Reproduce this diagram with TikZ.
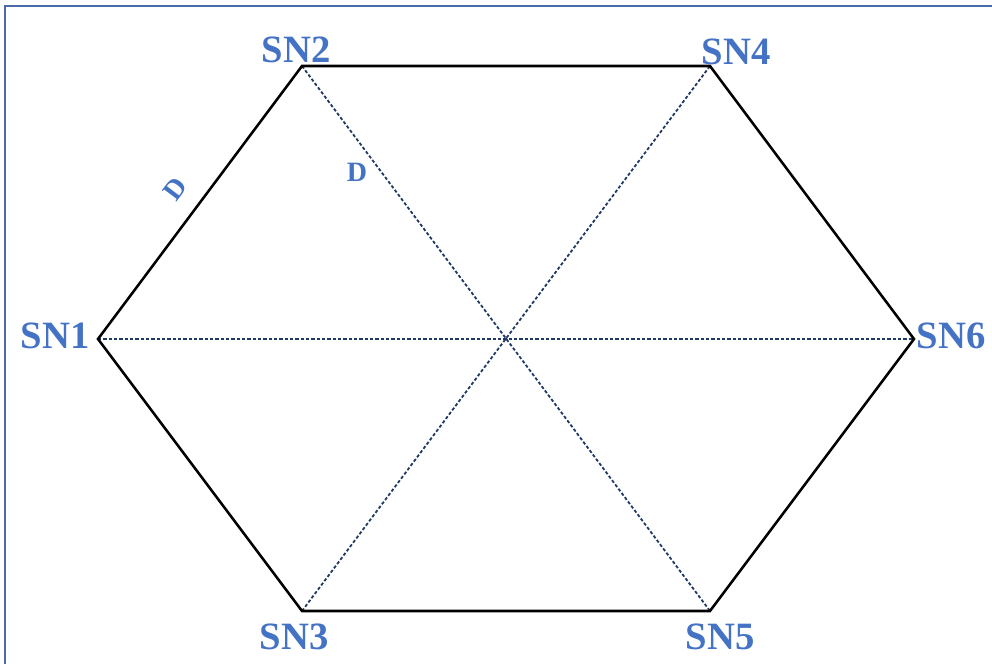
\documentclass[tikz,border=0pt]{standalone}
\usepackage{fontspec}
\setmainfont{Liberation Serif}
\definecolor{lblue}{HTML}{4472C4}
\definecolor{navy}{HTML}{1F3864}
\definecolor{frame}{HTML}{4A6AA8}
\begin{document}
\begin{tikzpicture}[x=0.75pt,y=-0.75pt,
  edge/.style={black,line width=1.9pt,line join=miter},
  diag/.style={navy,line width=1.35pt,dash pattern=on 2.4pt off 1.6pt},
  snlabel/.style={text=lblue,font=\fontsize{29}{32}\selectfont\bfseries,inner sep=0pt},
  dlabel/.style={text=lblue,font=\fontsize{21}{23}\selectfont\bfseries,inner sep=0pt}]
\useasboundingbox (0,0) rectangle (992,664);
\draw[frame,line width=1.6pt] (5,664) -- (5,6) -- (992,6);
\coordinate (v1) at (98,339);
\coordinate (v2) at (302,66);
\coordinate (v4) at (710,66);
\coordinate (v6) at (914,339);
\coordinate (v5) at (710,611);
\coordinate (v3) at (302,611);
\draw[diag] (v1) -- (v6);
\draw[diag] (v2) -- (v5);
\draw[diag] (v3) -- (v4);
\draw[edge] (v1) -- (v2) -- (v4) -- (v6) -- (v5) -- (v3) -- cycle;
\node[snlabel] (l1) at (55,336) {SN1};
\node[snlabel] (l2) at (296,50) {SN2};
\node[snlabel] (l4) at (736,52) {SN4};
\node[snlabel] (l6) at (951,336) {SN6};
\node[snlabel] (l3) at (294,637) {SN3};
\node[snlabel] (l5) at (720,637) {SN5};
\node[dlabel,rotate=53] (d1) at (175,189) {D};
\node[dlabel] (d2) at (357,172) {D};
\end{tikzpicture}
\end{document}
